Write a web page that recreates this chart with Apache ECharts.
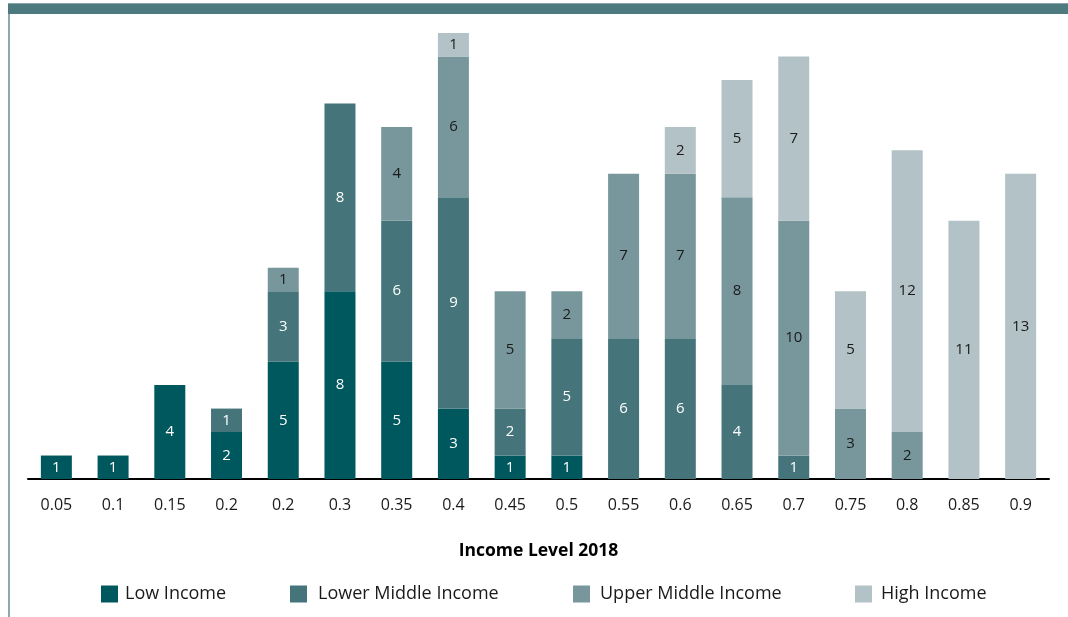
<!DOCTYPE html>
<html><head><meta charset="utf-8">
<script src="https://cdn.jsdelivr.net/npm/echarts@6/dist/echarts.min.js"></script>
<style>html,body{margin:0;padding:0;background:#fff}#c{width:1068px;height:617px}</style>
</head><body><div id="c"></div>
<script>
const categories = ['0.05','0.1','0.15','0.2','0.2','0.3','0.35','0.4','0.45','0.5','0.55','0.6','0.65','0.7','0.75','0.8','0.85','0.9'];
const lowIncome = [1,1,4,2,5,8,5,3,1,1,0,0,0,0,0,0,0,0];
const lowerMiddle = [0,0,0,1,3,8,6,9,2,5,6,6,4,1,0,0,0,0];
const upperMiddle = [0,0,0,0,1,0,4,6,5,2,7,7,8,10,3,2,0,0];
const highIncome = [0,0,0,0,0,0,0,1,0,0,0,2,5,7,5,12,11,13];
const seriesNames = ['Low Income','Lower Middle Income','Upper Middle Income','High Income'];
const colors = ['#00585f','#45757b','#78979c','#b3c2c6'];
const labelColors = ['#ffffff','#ffffff','#1a1a1a','#1a1a1a'];
const FONT = '"Open Sans", sans-serif';

const dataSets = [lowIncome, lowerMiddle, upperMiddle, highIncome];
const series = dataSets.map((d, i) => ({
  name: seriesNames[i],
  type: 'bar',
  stack: 'total',
  barWidth: 31,
  data: d.map(v => v === 0 ? null : v),
  itemStyle: { color: colors[i] },
  label: { show: true, position: 'inside', color: labelColors[i], fontSize: 15, fontFamily: FONT },
  emphasis: { disabled: true }
}));

const legendLefts = [101, 290, 573, 855];
const legendTextPad = [2, 6, 5, 4];
const legends = seriesNames.map((n, i) => ({
  data: [n], left: legendLefts[i], top: 585, itemWidth: 17, itemHeight: 17, itemGap: 0,
  padding: 0, icon: 'rect', selectedMode: false,
  textStyle: { fontSize: 18, color: '#1a1a1a', fontFamily: FONT, padding: [0, 0, 0, legendTextPad[i]] }
}));

const chart = echarts.init(document.getElementById('c'), null, { renderer: 'canvas' });
chart.setOption({
  animation: false,
  color: colors,
  grid: { left: 28, right: 19, top: 33, bottom: 138, containLabel: false },
  legend: legends,
  xAxis: {
    type: 'category', data: categories,
    name: 'Income Level 2018', nameLocation: 'middle', nameGap: 63,
    nameTextStyle: { fontSize: 17.5, fontWeight: 'bold', color: '#000', fontFamily: FONT },
    axisLine: { lineStyle: { color: '#000', width: 2 } },
    axisTick: { show: false },
    axisLabel: { fontSize: 16, color: '#1a1a1a', margin: 18, fontFamily: FONT, interval: 0 }
  },
  yAxis: { type: 'value', min: 0, max: 19, show: false, splitLine: { show: false } },
  series: series,
  graphic: [
    { type: 'rect', shape: { x: 8, y: 3, width: 1060, height: 11 }, style: { fill: '#4d7a7e' } },
    { type: 'rect', shape: { x: 8, y: 3, width: 1060, height: 1 }, style: { fill: '#8aa5a8' } },
    { type: 'rect', shape: { x: 8, y: 14, width: 2, height: 603 }, style: { fill: '#8fa8ab' } }
  ]
});
</script></body></html>
